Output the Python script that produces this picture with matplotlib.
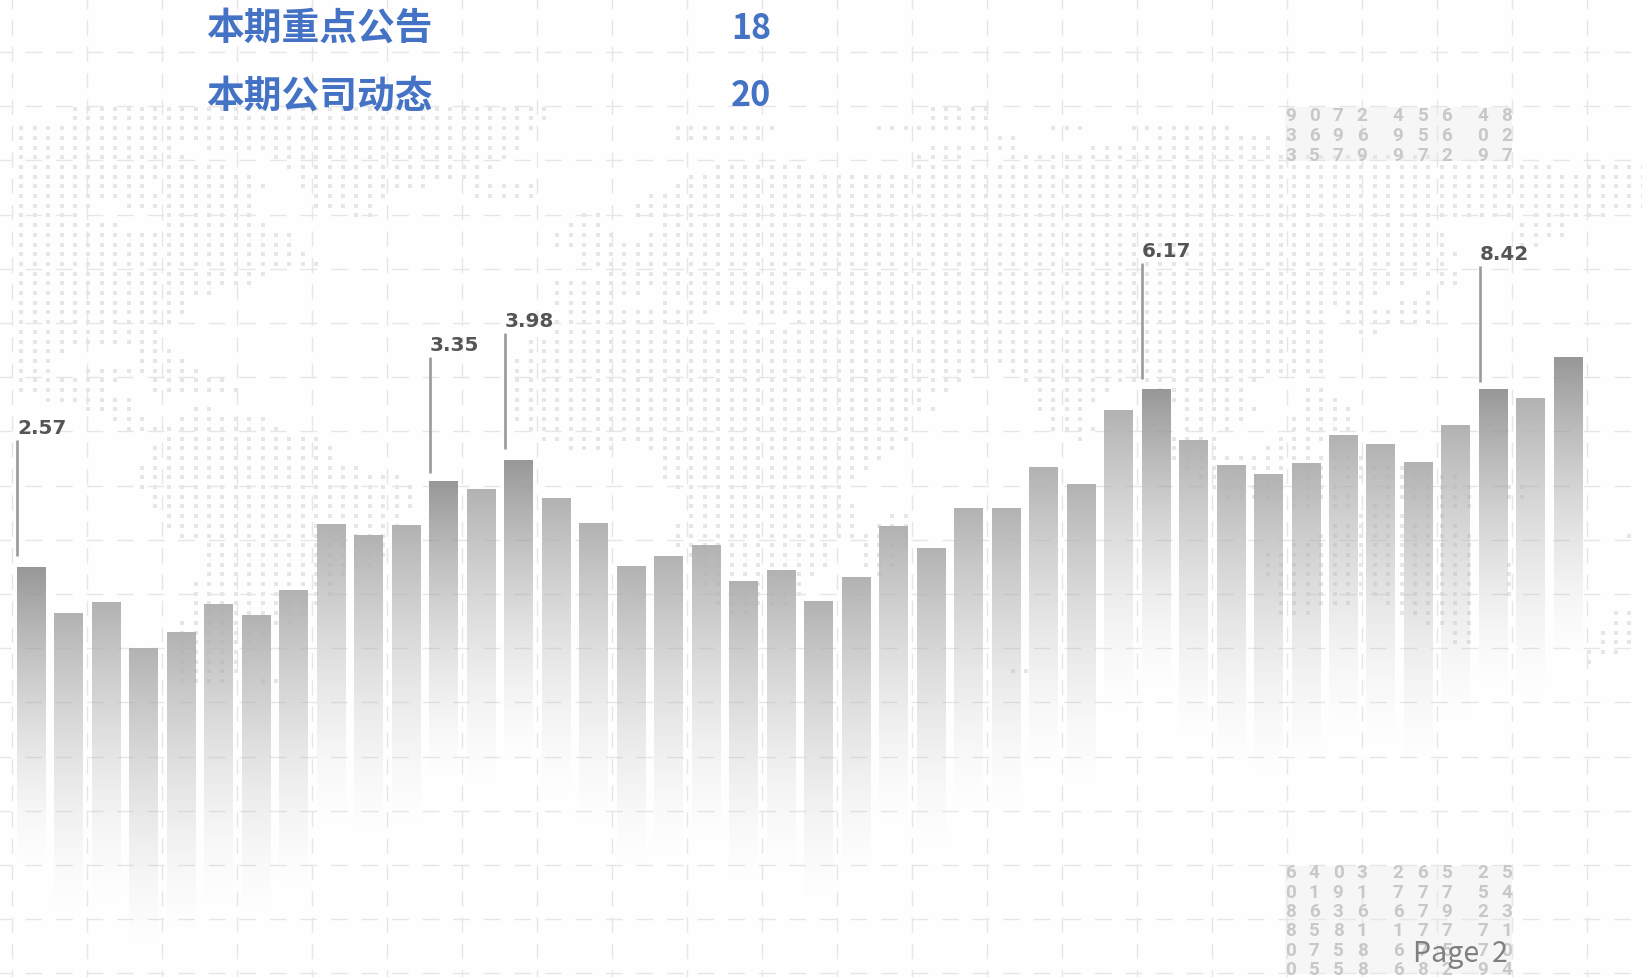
import numpy as np
import matplotlib
matplotlib.use("Agg")
import matplotlib.pyplot as plt
from matplotlib.patches import Rectangle

bar_tops_px = [568, 614, 603, 649, 633, 605, 616, 591, 525, 536, 526, 482, 490, 461,
               499, 524, 567, 557, 546, 582, 571, 602, 578, 527, 549, 509, 509, 468,
               485, 411, 390, 441, 466, 475, 464, 436, 445, 463, 426, 390, 399, 358]
bar_values = [978 - t for t in bar_tops_px]
dark_bars = [0, 11, 13, 30, 39, 41]

callout_bars = [0, 11, 13, 30, 39]
callout_labels = ["2.57", "3.35", "3.98", "6.17", "8.42"]
callout_gaps = [11, 8, 11, 10, 7]

list_names = ["本期重点公告", "本期公司动态"]
list_pages = ["18", "20"]
page_label = "Page  2"

digits_top = ["9072 456 48", "3696 956 02", "3579 972 97"]
digits_bottom = ["6403 265 25", "0191 777 54", "8636 679 23",
                 "8581 177 71", "0758 675 70", "0558 682 94"]

# Dotted world-map backdrop: column spans on each dot row
map_rows = [
    [(4, 39), (68, 72)],
    [(4, 39), (68, 72)],
    [(0, 38), (49, 56), (64, 72), (77, 79), (83, 90)],
    [(0, 37), (49, 55), (73, 74), (85, 93)],
    [(0, 11), (14, 37), (68, 74), (80, 93)],
    [(0, 12), (19, 36), (67, 70), (74, 105)],
    [(0, 15), (20, 35), (52, 58), (67, 71), (73, 114), (117, 121)],
    [(0, 17), (21, 34), (50, 121)],
    [(0, 9), (11, 18), (21, 30), (34, 38), (49, 121)],
    [(0, 17), (22, 27), (34, 38), (47, 121)],
    [(0, 5), (8, 17), (22, 26), (46, 52), (54, 121)],
    [(0, 4), (11, 17), (25, 26), (42, 43), (46, 111), (113, 118)],
    [(0, 7), (11, 18), (41, 43), (48, 105), (112, 115)],
    [(0, 20), (40, 44), (47, 106), (112, 115)],
    [(0, 20), (40, 106), (112, 113)],
    [(0, 21), (42, 107)],
    [(0, 22), (42, 106)],
    [(0, 18), (44, 107)],
    [(0, 17), (40, 57), (59, 59), (61, 103), (106, 107)],
    [(0, 14), (40, 46), (48, 60), (61, 101), (105, 105)],
    [(0, 12), (40, 44), (48, 48), (50, 100), (103, 105)],
    [(0, 12), (41, 51), (54, 97), (99, 105)],
    [(0, 11), (40, 50), (58, 97), (99, 105)],
    [(0, 10), (40, 97), (100, 101)],
    [(0, 10), (38, 97)],
    [(0, 3), (9, 11), (38, 97)],
    [(0, 2), (9, 12), (37, 97)],
    [(0, 2), (5, 13), (37, 71), (74, 97)],
    [(0, 7), (10, 15), (37, 70), (75, 92)],
    [(0, 6), (10, 16), (37, 69), (76, 81), (85, 91), (96, 97)],
    [(2, 8), (37, 67), (76, 80), (86, 91), (96, 98)],
    [(5, 8), (13, 14), (37, 68), (76, 79), (87, 92), (96, 99)],
    [(7, 9), (12, 18), (37, 66), (77, 79), (87, 91), (95, 99)],
    [(8, 10), (11, 19), (38, 66), (77, 80), (87, 88), (90, 90), (95, 99)],
    [(11, 22), (39, 66), (79, 79), (86, 89), (94, 99)],
    [(10, 23), (41, 44), (47, 65), (86, 89), (93, 96)],
    [(10, 23), (48, 64), (86, 100)],
    [(9, 25), (48, 63), (87, 105)],
    [(9, 28), (48, 62), (88, 90), (95, 97), (99, 107)],
    [(9, 29), (49, 61), (89, 93), (96, 98), (102, 108), (111, 112)],
    [(10, 29), (50, 61), (90, 94), (95, 99), (102, 108), (111, 112)],
    [(10, 29), (50, 62), (95, 96), (98, 99), (101, 102), (105, 108)],
    [(11, 28), (50, 62), (65, 66), (100, 103), (105, 106)],
    [(11, 28), (49, 62), (64, 66), (98, 107)],
    [(12, 27), (49, 66), (97, 108), (120, 120)],
    [(14, 27), (49, 60), (63, 66), (95, 108)],
    [(14, 27), (50, 60), (63, 65), (93, 108)],
    [(14, 26), (51, 60), (63, 65), (93, 108), (111, 111)],
    [(14, 24), (51, 59), (64, 64), (93, 108), (111, 111)],
    [(13, 23), (51, 58), (94, 108), (111, 111)],
    [(13, 23), (52, 58), (94, 108), (111, 111)],
    [(13, 22), (52, 57), (94, 99), (102, 108)],
    [(13, 21), (53, 54), (94, 96), (103, 108), (119, 120)],
    [(12, 20), (105, 108), (119, 120)],
    [(12, 18), (107, 108), (118, 120)],
    [(12, 17), (107, 108), (118, 120)],
    [(12, 16), (117, 119)],
    [(12, 16), (117, 117)],
    [(12, 16), (74, 75)],
    [(12, 15), (18, 19)],
]

W, H = 1642, 978
fig = plt.figure(figsize=(W / 100, H / 100), dpi=100, facecolor="#fefefe")

# ---- backdrop axes, in page pixels -------------------------------------
bg = fig.add_axes([0, 0, 1, 1])
bg.set_xlim(0, W)
bg.set_ylim(H, 0)
bg.axis("off")

grid_kw = dict(color="#e6e6e6", lw=1.0, zorder=1)
for x in np.arange(12, W, 75):
    bg.plot([x, x], [0, H], linestyle=(4, (11, 8)), **grid_kw)
for y in np.arange(-1.2, H, 54.2):
    bg.plot([0, W], [y, y], linestyle=(4, (12, 10)), **grid_kw)

dot_x, dot_y = [], []
for r, spans in enumerate(map_rows):
    for a, b in spans:
        for c in range(a, b + 1):
            dot_x.append(21.4 + 13.4 * c)
            dot_y.append(109.7 + 9.7 * r)
bg.scatter(dot_x, dot_y, marker="s", s=12, color="#e6e6e6", linewidths=0, zorder=2)

for y0, y1 in [(108, 162), (867, 975)]:
    bg.add_patch(Rectangle((1285, y0), 227, y1 - y0, color="#f6f6f6", lw=0, zorder=0.5))

digit_cols = [1291, 1314, 1338, 1362, None, 1398, 1423, 1447, None, 1483, 1507]
for rows, ys in [(digits_top, [116, 136, 156]),
                 (digits_bottom, [873, 893, 912, 931, 951, 970])]:
    for s, y in zip(rows, ys):
        for ch, x in zip(s, digit_cols):
            if x is not None:
                bg.text(x, y, ch, ha="center", va="center", family="Roboto",
                        weight="bold", fontsize=13.6, color="#c8c8c8", zorder=3)

# ---- bars axes ----------------------------------------------------------
ax = fig.add_axes([0, 0, 1, 1], facecolor="none")
ax.axis("off")
pitch = 37.49
x0 = 31.1
fade = 305
t = np.linspace(0, 1, 305)[:, None]
for i, v in enumerate(bar_values):
    top = 0.58 if i in dark_bars else 0.69
    rect = ax.bar(i, fade, bottom=v - fade, width=0.76, color="none", lw=0)[0]
    rgba = np.ones((305, 1, 4)) * top
    rgba[..., 3] = ((1 - t) ** 1.6) * 0.96
    ax.imshow(rgba, extent=[rect.get_x(), rect.get_x() + rect.get_width(),
                            rect.get_y(), rect.get_y() + rect.get_height()],
              aspect="auto", origin="upper", zorder=4, interpolation="bilinear")
ax.set_xlim(-x0 / pitch, (W - x0) / pitch)
ax.set_ylim(0, H)

half = 0.38
for i, lab, gap in zip(callout_bars, callout_labels, callout_gaps):
    y0 = bar_values[i] + gap
    y1 = y0 + 116
    ax.plot([i - half + 0.015] * 2, [y0, y1], color="#9a9a9a", lw=1.9,
            solid_capstyle="butt", zorder=5)
    ax.text(i - half + 0.01, y1 + 12.5, lab, ha="left", va="center", family="DejaVu Sans",
            weight="bold", fontsize=14.4, color="#555555", zorder=6)

# ---- foreground text ----------------------------------------------------
for name, page, y in zip(list_names, list_pages, [28.5, 96]):
    bg.text(206, y, name, ha="left", va="center", family="Noto Sans CJK SC",
            weight="bold", fontsize=27.2, color="#4472C4", zorder=6)
    bg.text(771, y, page, ha="right", va="center", family="Noto Sans CJK SC",
            weight="bold", fontsize=24.5, color="#4472C4", zorder=6)
bg.text(1413, 962, page_label, ha="left", va="baseline", family="Noto Sans CJK JP",
        fontsize=20.6, color="#808080", zorder=6)

fig.savefig("out.png", dpi=100, facecolor=fig.get_facecolor())
